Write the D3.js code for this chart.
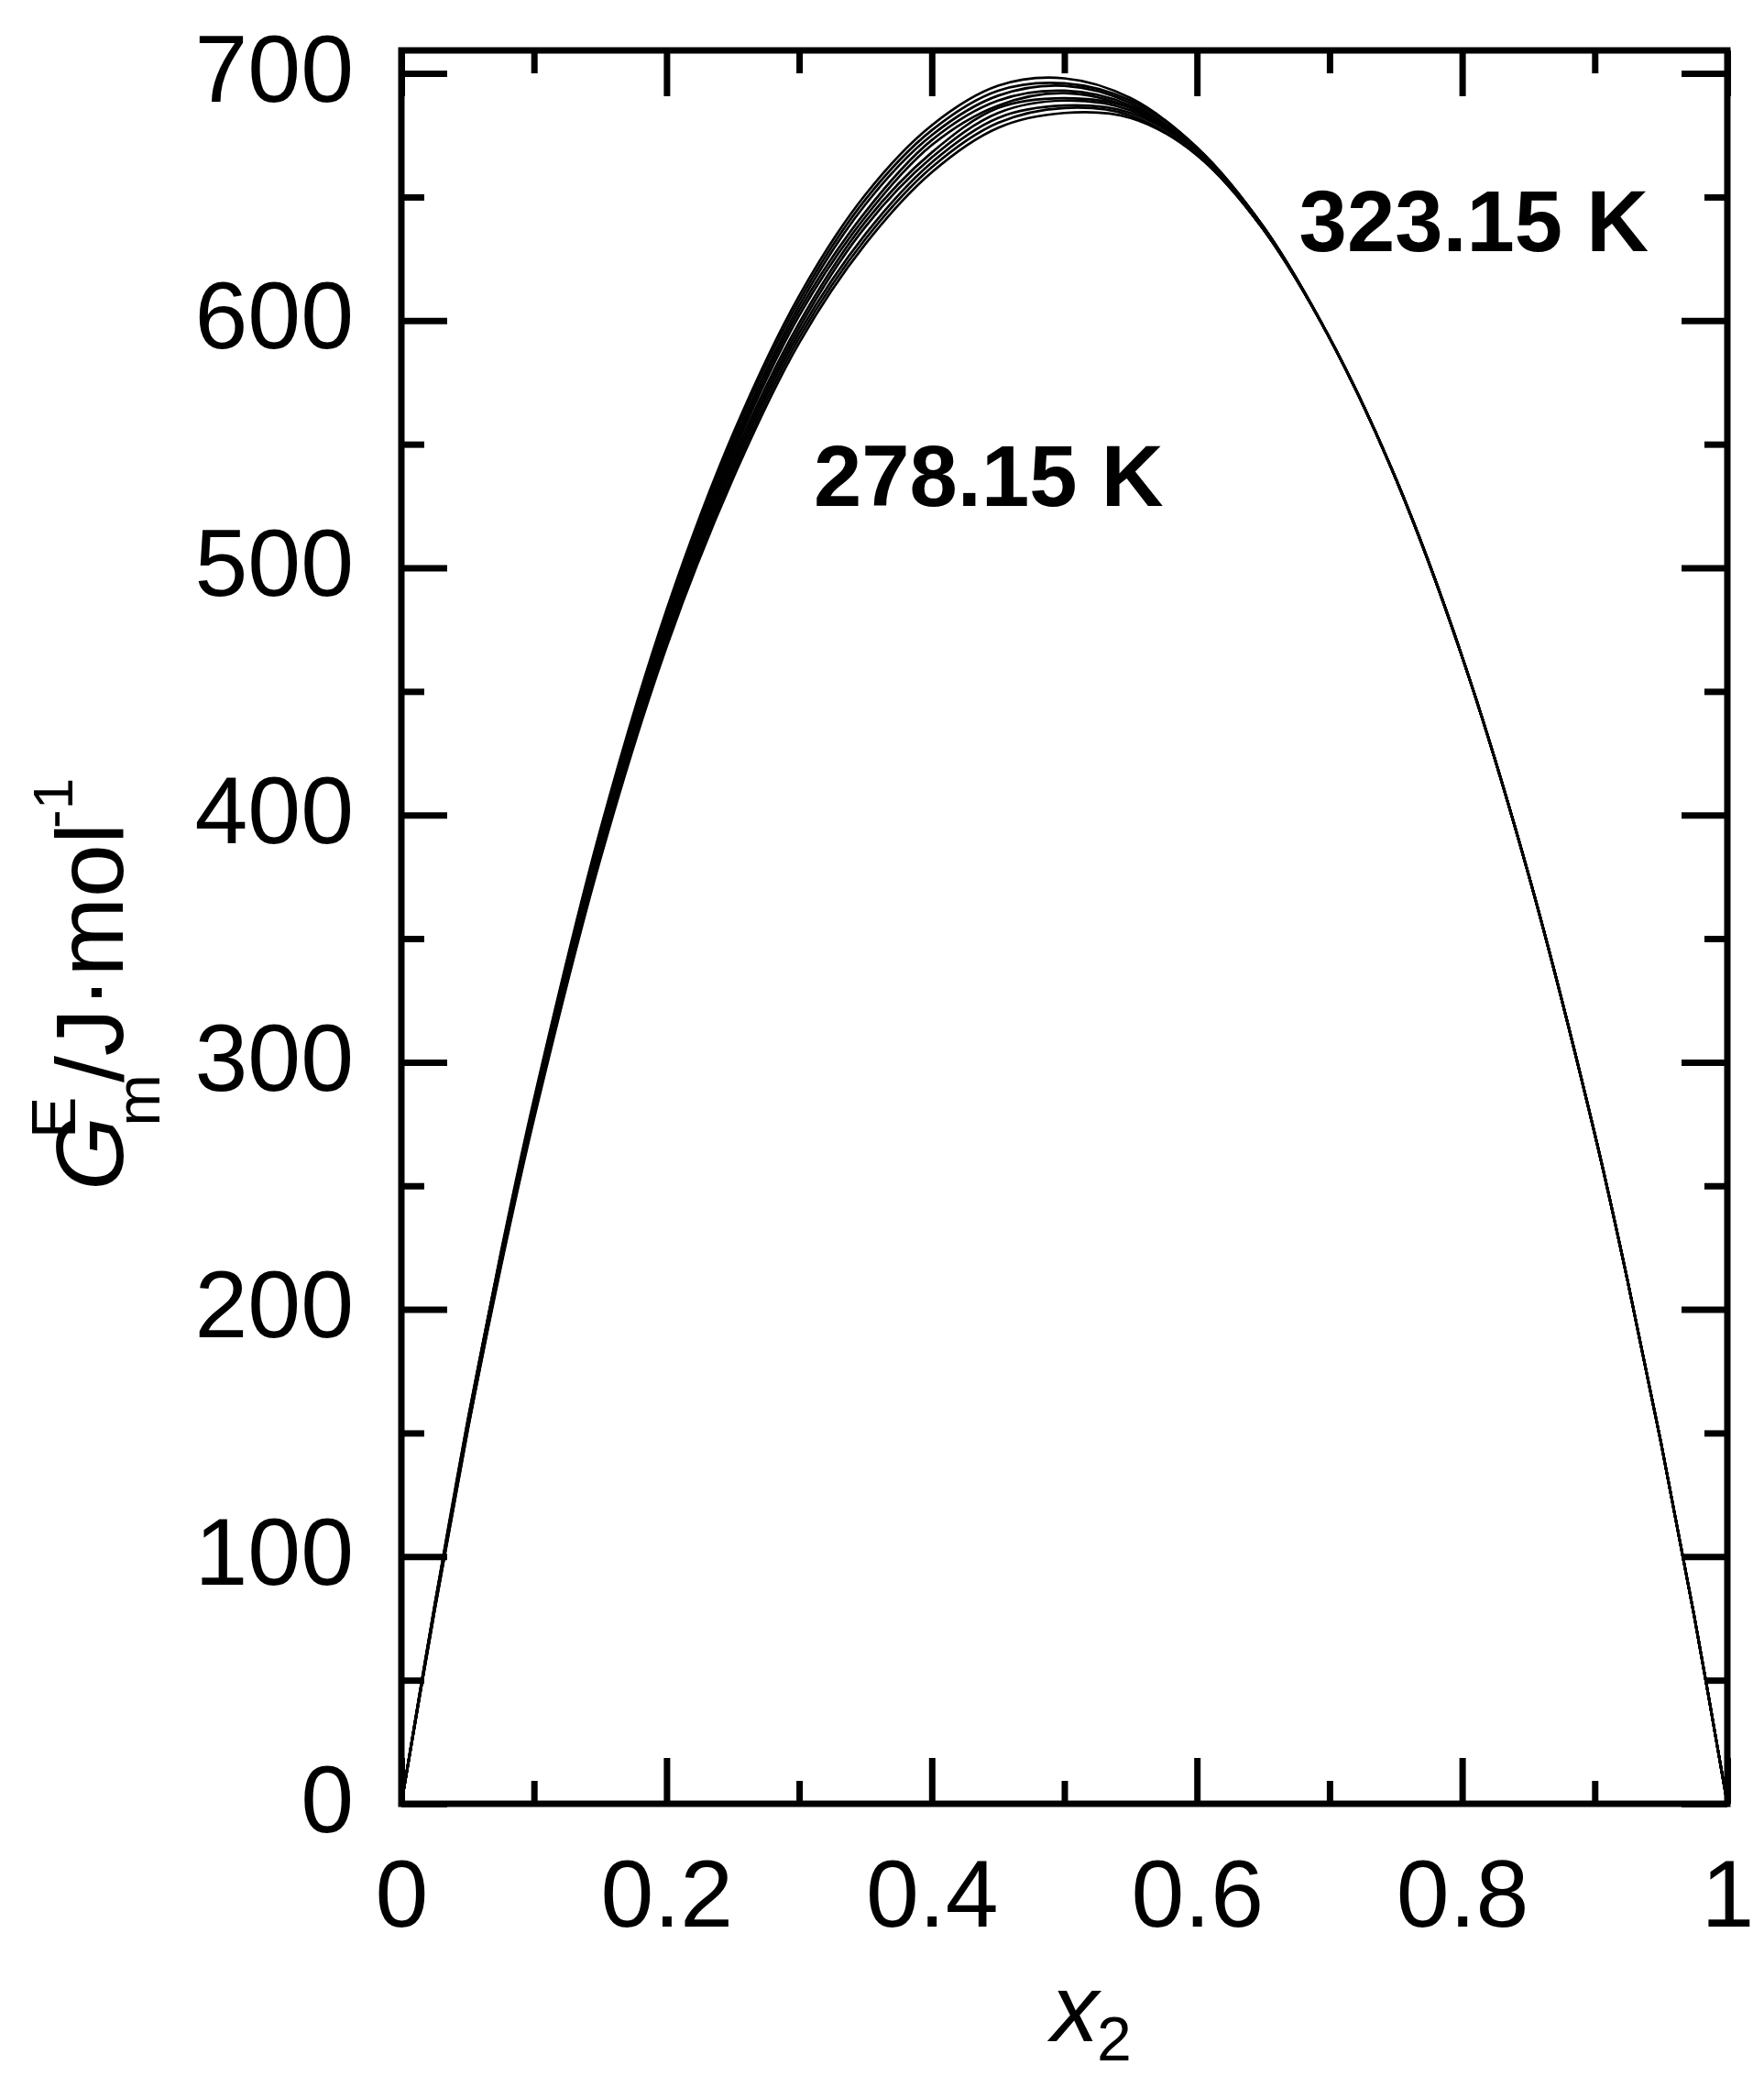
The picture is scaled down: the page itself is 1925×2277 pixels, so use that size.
<!DOCTYPE html>
<html>
<head>
<meta charset="utf-8">
<script src="https://cdn.jsdelivr.net/npm/d3@7"></script>
<style>
    body { margin: 0; background: #fff; }
    svg { display: block; }
    .tick text { font-family: "Liberation Sans", Arial, sans-serif; }
</style>
</head>
<body>
<div id="chart"></div>
<script>
// mole fraction grid shared by all isotherms
var xValues = [0, 0.025, 0.05, 0.075, 0.1, 0.15, 0.2, 0.25, 0.3, 0.35, 0.4, 0.45, 0.5,
    0.55, 0.6, 0.65, 0.7, 0.75, 0.8, 0.85, 0.9, 0.925, 0.95, 0.975, 1];

var temperatures = [323.15, 318.15, 313.15, 308.15, 303.15, 298.15, 293.15, 288.15, 283.15, 278.15];

// G^E_m / J·mol-1, one row per temperature
var gE_323 = [0, 80, 155, 223, 285, 394, 483, 554, 610, 651, 679, 695, 698, 690, 670, 638, 593, 536, 464, 376, 271, 211, 146, 76, 0];
var gE_318 = [0, 80, 155, 222, 284, 393, 481, 552, 608, 649, 677, 693, 696, 689, 670, 638, 593, 536, 464, 376, 271, 211, 146, 76, 0];
var gE_313 = [0, 80, 154, 222, 283, 391, 480, 550, 606, 647, 675, 691, 695, 688, 669, 638, 593, 536, 464, 376, 271, 211, 146, 76, 0];
var gE_308 = [0, 79, 154, 221, 282, 390, 478, 548, 604, 644, 673, 689, 693, 687, 669, 638, 593, 536, 464, 376, 271, 211, 146, 76, 0];
var gE_303 = [0, 79, 153, 220, 281, 389, 476, 546, 602, 642, 671, 687, 692, 686, 669, 638, 593, 536, 464, 376, 271, 211, 146, 76, 0];
var gE_298 = [0, 79, 153, 220, 281, 387, 475, 544, 599, 640, 668, 686, 690, 686, 668, 637, 593, 536, 464, 376, 271, 211, 146, 76, 0];
var gE_293 = [0, 79, 152, 219, 280, 386, 473, 542, 597, 638, 666, 684, 689, 685, 668, 637, 593, 536, 464, 376, 271, 211, 146, 76, 0];
var gE_288 = [0, 78, 152, 218, 279, 385, 471, 540, 595, 635, 664, 682, 687, 684, 668, 637, 593, 536, 464, 376, 271, 211, 146, 76, 0];
var gE_283 = [0, 78, 151, 218, 278, 383, 470, 538, 593, 633, 662, 680, 686, 683, 667, 637, 593, 536, 464, 376, 271, 211, 146, 76, 0];
var gE_278 = [0, 78, 151, 217, 277, 382, 468, 536, 591, 631, 660, 678, 684, 682, 667, 637, 593, 536, 464, 376, 271, 211, 146, 76, 0];

var seriesValues = [gE_323, gE_318, gE_313, gE_308, gE_303, gE_298, gE_293, gE_288, gE_283, gE_278];

var xMajorTicks = [0, 0.2, 0.4, 0.6, 0.8, 1];
var xMinorTicks = [0.1, 0.3, 0.5, 0.7, 0.9];
var yMajorTicks = [0, 100, 200, 300, 400, 500, 600, 700];
var yMinorTicks = [50, 150, 250, 350, 450, 550, 650];

var annotations = [
    {text: "323.15 K", x: 0.677, y: 628},
    {text: "278.15 K", x: 0.311, y: 525}
];

var width = 1925, height = 2277;
var margin = {top: 55, right: 40, bottom: 309, left: 438};
var plotW = width - margin.left - margin.right;
var plotH = height - margin.top - margin.bottom;
var font = "'Liberation Sans', Arial, sans-serif";

var svg = d3.select("#chart").append("svg")
    .attr("width", width)
    .attr("height", height);

var g = svg.append("g")
    .attr("transform", "translate(" + margin.left + "," + margin.top + ")");

var x = d3.scaleLinear().domain([0, 1]).range([0, plotW]);
var y = d3.scaleLinear().domain([0, 709.3]).range([plotH, 0]);

//clip for the curves
g.append("clipPath").attr("id", "plotclip")
    .append("rect").attr("width", plotW).attr("height", plotH);

//curves
var line = d3.line()
    .x(function (d) { return x(d[0]); })
    .y(function (d) { return y(d[1]); })
    .curve(d3.curveCatmullRom.alpha(0.5));

g.append("g").attr("clip-path", "url(#plotclip)")
    .selectAll("path")
    .data(seriesValues)
    .enter()
    .append("path")
    .attr("d", function (vals) {
        return line(vals.map(function (v, i) { return [xValues[i], v]; }));
    })
    .attr("fill", "none")
    .attr("stroke", "#000")
    .attr("stroke-width", 2.7);

//axes: ticks point inward on all four sides
function styleAxis(sel, withText) {
    sel.select(".domain").remove();
    sel.selectAll(".tick line").attr("stroke", "#000").attr("stroke-width", 7);
    if (withText) {
        sel.selectAll(".tick text")
            .attr("fill", "#000")
            .style("font-family", font)
            .style("font-size", "104px");
    } else {
        sel.selectAll(".tick text").remove();
    }
}

var fmt = function (d) { return String(d); };

g.append("g").attr("transform", "translate(0," + plotH + ")")
    .call(d3.axisBottom(x).tickValues(xMajorTicks).tickFormat(fmt).tickSize(-50).tickPadding(60))
    .call(styleAxis, true);
g.append("g").attr("transform", "translate(0," + plotH + ")")
    .call(d3.axisBottom(x).tickValues(xMinorTicks).tickSize(-25))
    .call(styleAxis, false);
g.append("g")
    .call(d3.axisTop(x).tickValues(xMajorTicks).tickSize(-50))
    .call(styleAxis, false);
g.append("g")
    .call(d3.axisTop(x).tickValues(xMinorTicks).tickSize(-25))
    .call(styleAxis, false);

var yLeft = g.append("g")
    .call(d3.axisLeft(y).tickValues(yMajorTicks).tickFormat(fmt).tickSize(-50).tickPadding(52))
    .call(styleAxis, true);
yLeft.selectAll(".tick text").attr("dy", "0.29em");
g.append("g")
    .call(d3.axisLeft(y).tickValues(yMinorTicks).tickSize(-25))
    .call(styleAxis, false);
g.append("g").attr("transform", "translate(" + plotW + ",0)")
    .call(d3.axisRight(y).tickValues(yMajorTicks).tickSize(-50))
    .call(styleAxis, false);
g.append("g").attr("transform", "translate(" + plotW + ",0)")
    .call(d3.axisRight(y).tickValues(yMinorTicks).tickSize(-25))
    .call(styleAxis, false);

//frame
g.append("rect")
    .attr("width", plotW)
    .attr("height", plotH)
    .attr("fill", "none")
    .attr("stroke", "#000")
    .attr("stroke-width", 7);

//temperature labels
g.selectAll(".anno")
    .data(annotations)
    .enter()
    .append("text")
    .attr("class", "anno")
    .attr("x", function (d) { return x(d.x); })
    .attr("y", function (d) { return y(d.y); })
    .style("font-family", font)
    .style("font-size", "94px")
    .style("font-weight", "bold")
    .text(function (d) { return d.text; });

//x axis title
var xt = svg.append("text")
    .attr("x", 1147)
    .attr("y", 2227)
    .style("font-family", font)
    .style("font-size", "104px");
xt.append("tspan").style("font-style", "italic").text("x");
xt.append("tspan").attr("dx", -2).attr("dy", 21).style("font-size", "68px").text("2");

//y axis title
var yt = svg.append("text")
    .attr("transform", "translate(134,1299) rotate(-90)")
    .style("font-family", font)
    .style("font-size", "104px");
yt.append("tspan").style("font-style", "italic").text("G");
yt.append("tspan").attr("dx", -24).attr("dy", -52).style("font-size", "68px").text("E");
yt.append("tspan").attr("dx", -32).attr("dy", 92).style("font-size", "68px").text("m");
yt.append("tspan").attr("dx", -9).attr("dy", -40).text("/J\u00b7mol");
yt.append("tspan").attr("dx", -6).attr("dy", -55).style("font-size", "62px").text("-1");
</script>
</body>
</html>
